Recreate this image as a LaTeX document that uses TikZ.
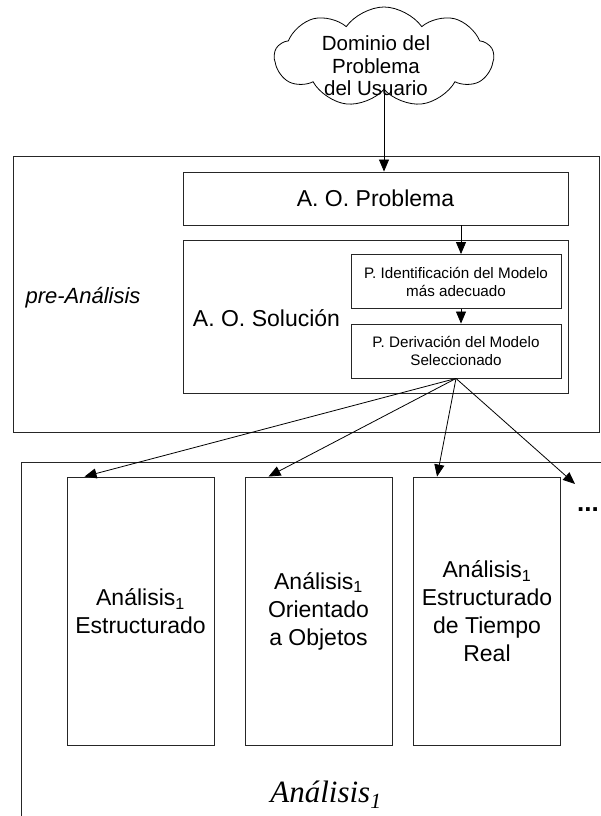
\documentclass[tikz,border=0pt]{standalone}
\usepackage{fontspec}
\setmainfont{Liberation Sans}
\newfontfamily\serifit{Liberation Serif}
\usetikzlibrary{arrows.meta,shapes.symbols}
\begin{document}
\begin{tikzpicture}[x=1pt,y=-1pt,
  frame/.style={draw=black!85,line width=0.9pt},
  box/.style={frame,fill=white,inner sep=0pt,align=center},
  maintext/.style={font=\fontsize{23}{28}\selectfont,align=center,inner sep=0pt},
  smalltext/.style={font=\fontsize{15.2}{18}\selectfont,align=center,inner sep=0pt},
  arr/.style={draw=black,line width=0.8pt,-{Triangle[length=12pt,width=10pt]}}]
\useasboundingbox (0,0) rectangle (601,816);
\clip (0,0) rectangle (601,816);

% user problem domain
\node[cloud,draw=black,line width=0.8pt,cloud puffs=9,cloud puff arc=110,aspect=2.2,
      minimum width=219pt,minimum height=100pt,inner sep=0pt] (dom) at (384,57) {};
\node[align=center,inner sep=0pt,font=\fontsize{20.5}{22.5}\selectfont] (domtxt) at (376,66)
  {Dominio del\\Problema\\del Usuario};

% pre-analysis stage
\node[box,minimum width=586pt,minimum height=276pt] (pre) at (306,294) {};
\node[inner sep=0pt,font=\fontsize{22}{26}\selectfont\itshape] (pretxt) at (83,298) {pre-Análisis};

\node[box,maintext,minimum width=385pt,minimum height=53pt] (prob) at (375.5,198.5) {A. O. Problema};
\node[box,minimum width=385pt,minimum height=153pt] (sol) at (375.5,316.5) {};
\node[maintext] (soltxt) at (266.5,318) {A. O. Solución};
\node[box,smalltext,minimum width=210pt,minimum height=54pt] (ident) at (456,281.5)
  {P. Identificación del Modelo\\más adecuado};
\node[box,smalltext,minimum width=210pt,minimum height=54pt] (deriv) at (456,351)
  {P. Derivación del Modelo\\Seleccionado};

% analysis stage
\draw[frame] (21,462) rectangle (680,900);
\node[box,maintext,minimum width=147pt,minimum height=268pt] (r1) at (140.5,611)
  {Análisis\textsubscript{1}\\Estructurado};
\node[box,maintext,minimum width=147pt,minimum height=268pt] (r2) at (318.5,611)
  {Análisis\textsubscript{1}\\Orientado\\a Objetos};
\node[box,maintext,minimum width=147pt,minimum height=268pt] (r3) at (487,611)
  {Análisis\textsubscript{1}\\Estructurado\\de Tiempo\\Real};
\node[anchor=east,inner sep=0pt,font=\fontsize{26}{30}\selectfont\bfseries] (dots) at (599,510) {...};
\node[inner sep=0pt,font=\serifit\fontsize{31}{36}\selectfont\itshape] (anatxt) at (326,795)
  {Análisis\textsubscript{1}};
\coordinate (more) at (575,484);

% connectors
\draw[arr] (dom.south) -- (dom.south |- prob.north);
\draw[arr] ([xshift=5pt]ident.north |- prob.south) -- ([xshift=5pt]ident.north);
\draw[arr] ([xshift=5pt]ident.south) -- ([xshift=5pt]deriv.north);
\draw[arr] (deriv.south) -- ([xshift=18pt]r1.north west);
\draw[arr] (deriv.south) -- ([xshift=24pt]r2.north west);
\draw[arr] (deriv.south) -- ([xshift=24pt]r3.north west);
\draw[arr] (deriv.south) -- (more);
\end{tikzpicture}
\end{document}
